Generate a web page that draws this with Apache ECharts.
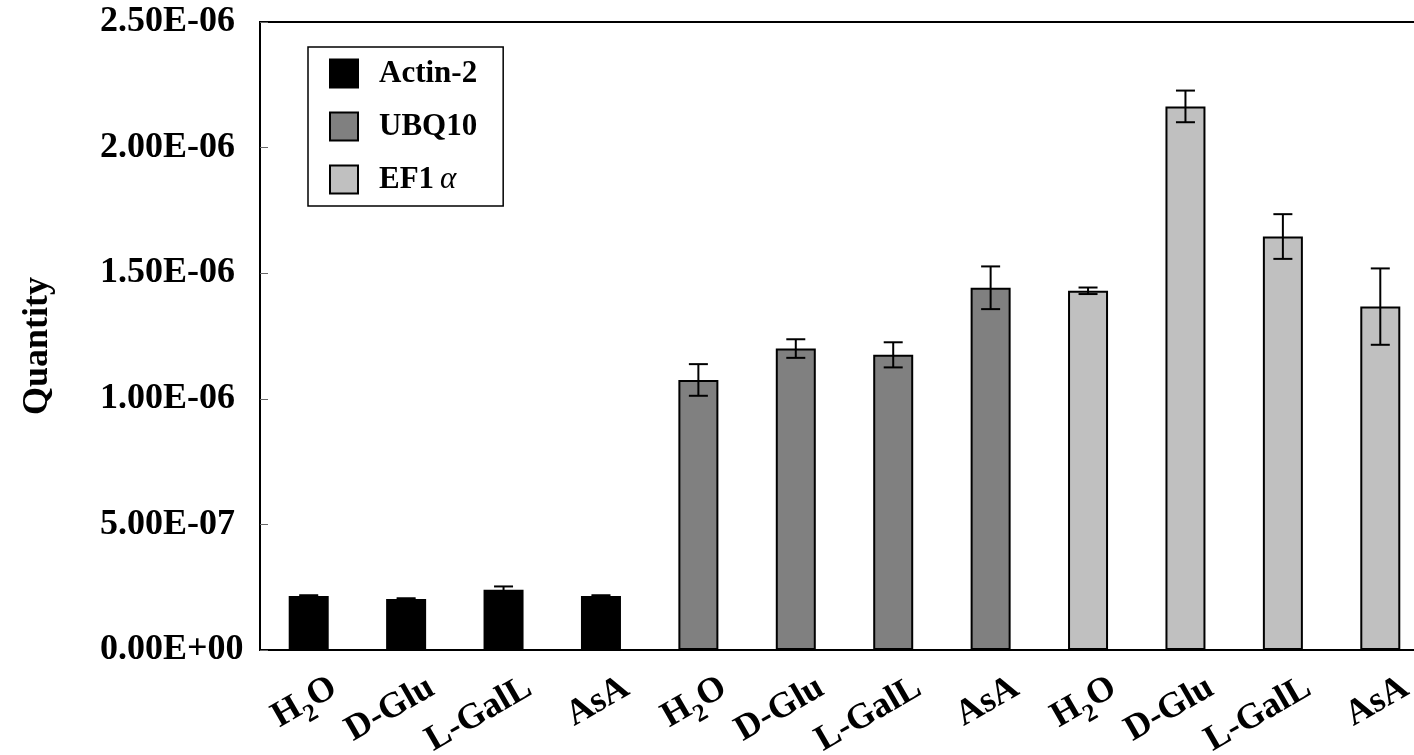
<!DOCTYPE html>
<html><head><meta charset="utf-8">
<script src="https://cdn.jsdelivr.net/npm/echarts@6/dist/echarts.min.js"></script>
<style>html,body{margin:0;padding:0;background:#fff}#c{width:1414px;height:755px}</style>
</head><body><div id="c"></div><script>
const categories = ['H2O','D-Glu','L-GalL','AsA','H2O','D-Glu','L-GalL','AsA','H2O','D-Glu','L-GalL','AsA'];
const seriesNames = ['Actin-2','UBQ10','EF1α'];
const yTickLabels = ['0.00E+00','5.00E-07','1.00E-06','1.50E-06','2.00E-06','2.50E-06'];
const actinVals = [2.15e-7, 2.03e-7, 2.40e-7, 2.15e-7];
const actinErr  = [0.03e-7, 0.03e-7, 0.13e-7, 0.03e-7];
const ubqVals   = [1.075e-6, 1.200e-6, 1.175e-6, 1.442e-6];
const ubqErr    = [0.063e-6, 0.037e-6, 0.050e-6, 0.085e-6];
const efVals    = [1.430e-6, 2.164e-6, 1.646e-6, 1.367e-6];
const efErr     = [0.013e-6, 0.063e-6, 0.089e-6, 0.152e-6];

const FONT = "'Liberation Serif','Times New Roman',serif";
const groups = [[actinVals, actinErr], [ubqVals, ubqErr], [efVals, efErr]];
const colors = ['#000000', '#808080', '#c0c0c0'];

function placed(gi, vals) {
  const arr = new Array(categories.length).fill('-');
  vals.forEach((v, i) => { arr[gi * 4 + i] = v; });
  return arr;
}
const errData = [];
groups.forEach(([v, e], gi) => v.forEach((val, i) => errData.push([gi * 4 + i, val, e[i]])));

const chart = echarts.init(document.getElementById('c'));
const barSeries = groups.map(([v], gi) => ({
  name: seriesNames[gi], type: 'bar', data: placed(gi, v),
  barWidth: 40, barGap: '-100%',
  itemStyle: { color: colors[gi], borderColor: '#000', borderWidth: 2 },
  z: 2
}));
const gridBase = { top: 22, width: 1169, height: 628, containLabel: false, outerBoundsMode: 'none' };
chart.setOption({
  animation: false,
  backgroundColor: '#fff',
  grid: [
    Object.assign({ left: 260, show: true, borderColor: '#000', borderWidth: 2, backgroundColor: 'transparent' }, gridBase),
    Object.assign({ left: 286, show: false }, gridBase)
  ],
  legend: {
    orient: 'vertical', left: 308, top: 47,
    padding: [11, 26, 11, 21],
    borderColor: '#000', borderWidth: 1.5,
    itemWidth: 28, itemHeight: 28, itemGap: 22,
    icon: 'rect',
    data: seriesNames,
    textStyle: { fontFamily: FONT, fontWeight: 'bold', fontSize: 31, color: '#000', padding: [0, 0, 0, 16],
      rich: { a: { fontFamily: FONT, fontStyle: 'italic', fontWeight: 'normal', fontSize: 31, color: '#000', padding: [0,0,0,6] } } },
    formatter: n => n === 'EF1α' ? 'EF1{a|α}' : n
  },
  xAxis: [{
    type: 'category', data: categories, gridIndex: 0,
    axisLine: { lineStyle: { color: '#000', width: 2 } },
    axisTick: { inside: true, length: 9, interval: 0, lineStyle: { color: '#666', width: 1 } },
    axisLabel: { show: false },
    splitLine: { show: false }
  }, {
    type: 'category', data: categories, gridIndex: 1,
    axisLine: { show: false }, axisTick: { show: false }, splitLine: { show: false },
    axisLabel: {
      interval: 0, rotate: 30, align: 'right', verticalAlign: 'middle', margin: 36,
      fontFamily: FONT, fontWeight: 'bold', fontSize: 36, color: '#000',
      formatter: v => v === 'H2O' ? '{m|H}{s|2}{m|O}' : '{m|' + v + '}',
      rich: {
        m: { fontFamily: FONT, fontWeight: 'bold', fontSize: 36, color: '#000', lineHeight: 38, verticalAlign: 'top' },
        s: { fontFamily: FONT, fontWeight: 'bold', fontSize: 25, color: '#000', lineHeight: 25, padding: [19, 0, 0, 0], verticalAlign: 'top' }
      }
    }
  }],
  yAxis: [{
    type: 'value', min: 0, max: 2.5e-6, interval: 5e-7, gridIndex: 0,
    name: 'Quantity', nameLocation: 'middle', nameRotate: 90, nameGap: 204,
    nameTextStyle: { fontFamily: FONT, fontWeight: 'bold', fontSize: 36, color: '#000', padding: [0, 20, 0, 0] },
    axisLine: { show: true, lineStyle: { color: '#000', width: 2 } },
    axisTick: { show: true, inside: true, length: 8, lineStyle: { color: '#666', width: 1 } },
    axisLabel: { align: 'left', margin: 160, fontFamily: FONT, fontWeight: 'bold', fontSize: 36, color: '#000',
      formatter: (v, i) => yTickLabels[i] },
    splitLine: { show: false }
  }, {
    type: 'value', min: 0, max: 2.5e-6, gridIndex: 1, show: false
  }],
  series: barSeries.concat([{
    type: 'custom', name: 'err', data: errData, z: 5,
    encode: { x: 0, y: 1 },
    renderItem: (params, api) => {
      const x = api.value(0), v = api.value(1), e = api.value(2);
      const top = api.coord([x, v + e]), bot = api.coord([x, v - e]);
      const hw = 9.5;
      const style = { stroke: '#000', lineWidth: 2 };
      return { type: 'group', children: [
        { type: 'line', shape: { x1: top[0], y1: top[1], x2: bot[0], y2: bot[1] }, style },
        { type: 'line', shape: { x1: top[0] - hw, y1: top[1], x2: top[0] + hw, y2: top[1] }, style },
        { type: 'line', shape: { x1: bot[0] - hw, y1: bot[1], x2: bot[0] + hw, y2: bot[1] }, style }
      ]};
    }
  }])
});
</script></body></html>
